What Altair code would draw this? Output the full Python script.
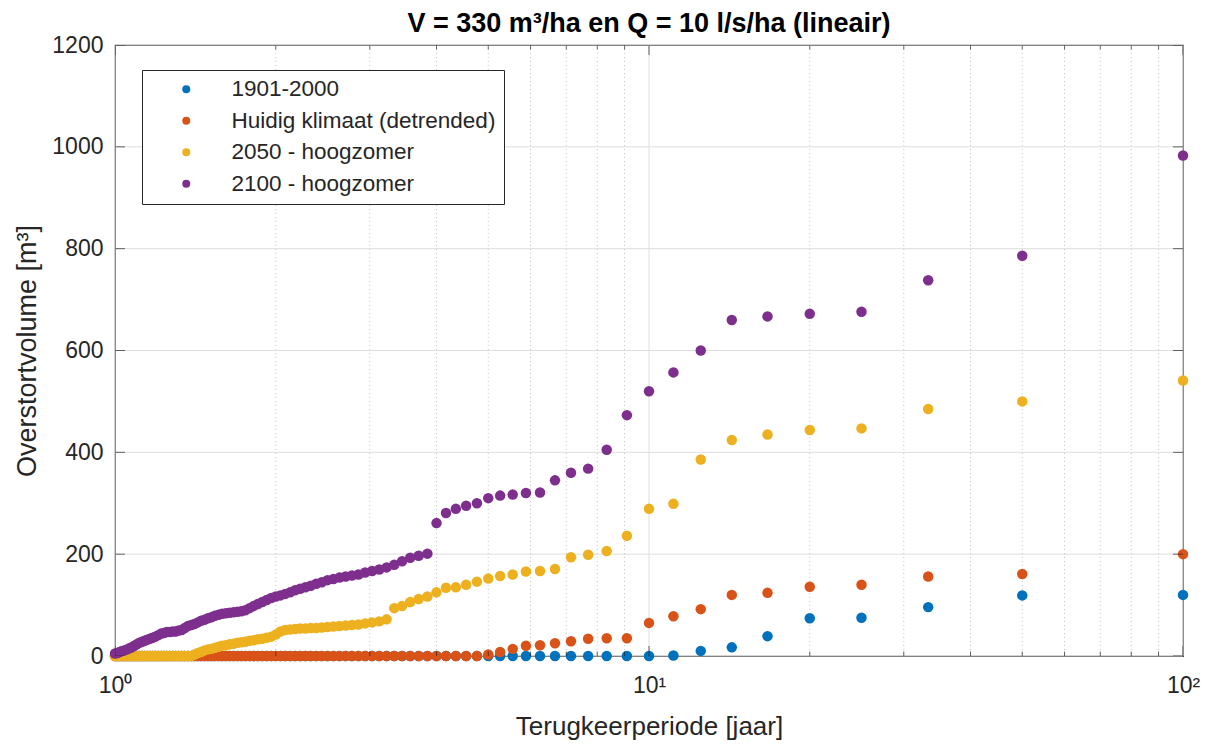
import altair as alt
import pandas as pd

# Return periods (years) for the 100 ranked annual events, largest event first
return_period = [
    100, 50, 33.33, 25, 20, 16.67, 14.29, 12.5, 11.11, 10,
    9.091, 8.333, 7.692, 7.143, 6.667, 6.25, 5.882, 5.556, 5.263, 5,
    4.762, 4.545, 4.348, 4.167, 4, 3.846, 3.704, 3.571, 3.448, 3.333,
    3.226, 3.125, 3.030, 2.941, 2.857, 2.778, 2.703, 2.632, 2.564, 2.5,
    2.439, 2.381, 2.326, 2.273, 2.222, 2.174, 2.128, 2.083, 2.041, 2,
    1.961, 1.923, 1.887, 1.852, 1.818, 1.786, 1.754, 1.724, 1.695, 1.667,
    1.639, 1.613, 1.587, 1.563, 1.538, 1.515, 1.493, 1.471, 1.449, 1.429,
    1.408, 1.389, 1.370, 1.351, 1.333, 1.316, 1.299, 1.282, 1.266, 1.25,
    1.235, 1.220, 1.205, 1.190, 1.176, 1.163, 1.149, 1.136, 1.124, 1.111,
    1.099, 1.087, 1.075, 1.064, 1.053, 1.042, 1.031, 1.020, 1.010, 1,
]

# Overflow volume [m3] per scenario, same order as return_period
vol_1901_2000 = [
    120, 119, 96, 75, 74, 39, 17, 10, 1, 0,
] + [0] * 90

vol_huidig = [
    200, 161, 156, 140, 136, 124, 120, 92, 78, 65,
    35, 35, 34, 29, 25, 21, 20, 14, 8, 3,
] + [0] * 80

vol_2050 = [
    541, 500, 485, 447, 444, 435, 424, 386, 299, 289,
    236, 206, 199, 194, 171, 167, 166, 160, 157, 152,
    146, 140, 135, 134, 125, 117, 112, 106, 98, 94,
    72, 68, 66, 64, 62, 61, 60, 59, 58, 57,
    56, 55, 55, 54, 54, 53, 52, 51, 48, 42,
    38, 36, 34, 33, 31, 30, 28, 27, 26, 24,
    23, 21, 20, 18, 16, 14, 13, 11, 8, 6,
    3,
] + [0] * 29

vol_2100 = [
    983, 786, 738, 676, 672, 667, 660, 600, 557, 520,
    473, 405, 368, 360, 345, 321, 320, 317, 315, 310,
    300, 295, 289, 281, 261, 201, 197, 193, 186, 179,
    174, 170, 167, 164, 160, 158, 156, 154, 151, 149,
    145, 142, 138, 135, 132, 129, 125, 122, 119, 117,
    114, 110, 106, 102, 98, 94, 90, 88, 87, 86,
    85, 84, 83, 81, 79, 76, 74, 71, 69, 66,
    63, 61, 59, 55, 51, 50, 48, 48, 47, 47,
    45, 44, 41, 38, 36, 34, 32, 30, 28, 26,
    23, 20, 17, 15, 13, 11, 10, 8, 6, 5,
]

series_names = [
    "1901-2000",
    "Huidig klimaat (detrended)",
    "2050 - hoogzomer",
    "2100 - hoogzomer",
]
series_colors = ["#0072BD", "#D95319", "#EDB120", "#7E2F8E"]
series_values = [vol_1901_2000, vol_huidig, vol_2050, vol_2100]

# Axis tick positions
x_major = [1, 10, 100]
x_minor = [2, 3, 4, 5, 6, 7, 8, 9, 20, 30, 40, 50, 60, 70, 80, 90]
y_ticks = [0, 200, 400, 600, 800, 1000, 1200]

rows = []
for name, vals in zip(series_names, series_values):
    for t, v in zip(return_period, vals):
        rows.append({"T": t, "V": v, "serie": name})
df = pd.DataFrame(rows)

AXIS_COLOR = "#262626"
xscale = alt.Scale(type="log", domain=[1, 100])
yscale = alt.Scale(domain=[0, 1200])

x_axis = alt.Axis(
    values=x_major,
    labelExpr="datum.value == 1 ? '10⁰' : (datum.value == 10 ? '10¹' : '10²')",
    ticks=False,
    domain=False,
    grid=False,
    labelFlush=False,
    labelFontSize=23,
    labelPadding=18,
    labelColor=AXIS_COLOR,
    title="Terugkeerperiode [jaar]",
    titleFontSize=26,
    titleFontWeight="normal",
    titleColor=AXIS_COLOR,
    titlePadding=16,
)
y_axis = alt.Axis(
    values=y_ticks,
    format="d",
    ticks=False,
    domain=False,
    grid=False,
    labelFontSize=23,
    labelPadding=12,
    labelColor=AXIS_COLOR,
    title="Overstortvolume [m³]",
    titleFontSize=27,
    titleFontWeight="normal",
    titleColor=AXIS_COLOR,
    titlePadding=10,
)

df_xmaj = pd.DataFrame({"v": x_major})
df_xmin = pd.DataFrame({"v": x_minor})
df_y = pd.DataFrame({"v": y_ticks})


def xenc(field):
    return alt.X(field, scale=xscale, axis=x_axis)


def yenc(field):
    return alt.Y(field, scale=yscale, axis=y_axis)


# Grid lines
hgrid = alt.Chart(df_y).mark_rule(color="#dedede", strokeWidth=1).encode(
    y=yenc("v:Q")
)
vgrid_minor = alt.Chart(df_xmin).mark_rule(
    color="#c4c4c4", strokeWidth=1, strokeDash=[1, 3]
).encode(x=xenc("v:Q"))
vgrid_major = alt.Chart(df_xmaj).mark_rule(color="#dedede", strokeWidth=1).encode(
    x=xenc("v:Q")
)

# Scatter points
points = alt.Chart(df).mark_circle(size=110, opacity=1).encode(
    x=xenc("T:Q"),
    y=yenc("V:Q"),
    color=alt.Color(
        "serie:N",
        scale=alt.Scale(domain=series_names, range=series_colors),
        legend=alt.Legend(
            title=None,
            orient="none",
            legendX=27,
            legendY=25,
            direction="vertical",
            strokeColor=AXIS_COLOR,
            fillColor="white",
            padding=8,
            symbolType="circle",
            symbolSize=64,
            symbolStrokeWidth=0,
            symbolOffset=25,
            labelOffset=34,
            labelFontSize=22.5,
            labelColor=AXIS_COLOR,
            labelLimit=400,
            rowPadding=8.5,
        ),
    ),
)


# Inward-pointing axis ticks on all four sides (clipped to the plot box)
def xticks(frame, length, at):
    return alt.Chart(frame).mark_tick(
        orient="vertical", size=length, thickness=1, clip=True, color=AXIS_COLOR
    ).encode(x=xenc("v:Q"), y=alt.datum(at))


def yticks(at):
    return alt.Chart(df_y).mark_tick(
        orient="horizontal", size=20, thickness=1, clip=True, color=AXIS_COLOR
    ).encode(y=yenc("v:Q"), x=alt.datum(at))


chart = (
    alt.layer(
        hgrid,
        vgrid_minor,
        vgrid_major,
        points,
        xticks(df_xmaj, 20, 0),
        xticks(df_xmaj, 20, 1200),
        xticks(df_xmin, 9, 0),
        xticks(df_xmin, 9, 1200),
        yticks(1),
        yticks(100),
    )
    .properties(
        width=1068,
        height=611,
        title=alt.TitleParams(
            text="V = 330 m³/ha en Q = 10 l/s/ha (lineair)",
            fontSize=27,
            fontWeight="bold",
            color="#000000",
            anchor="middle",
            offset=-4,
        ),
        autosize=alt.AutoSizeParams(type="none"),
        padding={"left": 115, "top": 45, "right": 29, "bottom": 93},
        background="white",
    )
    .configure(font="Liberation Sans")
    .configure_view(stroke=AXIS_COLOR, strokeWidth=1.2)
)

chart.save("out.html", embed_options={"renderer": "svg", "actions": False})
